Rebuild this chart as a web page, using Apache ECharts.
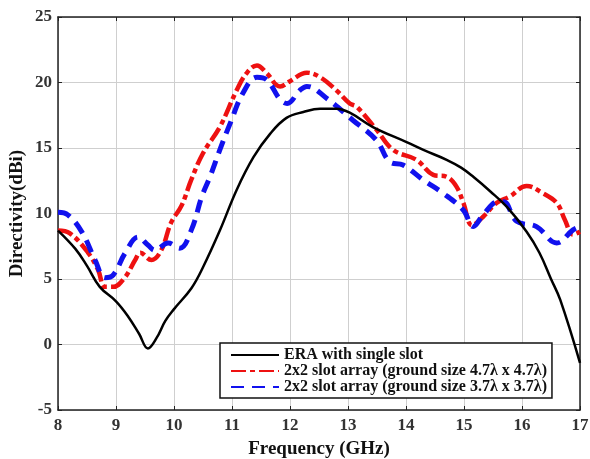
<!DOCTYPE html>
<html>
<head>
    <meta charset="utf-8">
    <title>Directivity vs Frequency</title>
    <script src="https://cdn.jsdelivr.net/npm/echarts@6/dist/echarts.min.js"></script>
    <style>
      body { margin: 0; background: #fff; }
    </style>
</head>
<body>
    <div id="chart" style="width: 590px; height: 459px;"></div>
    <script>
        // frequency (GHz) / directivity (dBi)
        var freqEra = [8.0, 8.3, 8.5, 8.72, 9.0, 9.2, 9.4, 9.55, 9.7, 9.85, 10.0, 10.3, 10.5, 10.79, 11.08, 11.37, 11.66, 11.94, 12.23, 12.52, 12.8, 13.03, 13.43, 14.01, 14.3, 14.7, 14.95, 15.16, 15.45, 15.74, 16.08, 16.3, 16.5, 16.66, 17.0];
        var dirEra = [8.7, 7.3, 6.0, 4.4, 3.3, 2.2, 0.8, -0.3, 0.5, 1.8, 2.7, 4.3, 5.9, 8.7, 11.8, 14.3, 16.1, 17.3, 17.75, 18.0, 18.0, 17.7, 16.6, 15.45, 14.85, 14.1, 13.5, 12.8, 11.7, 10.5, 8.6, 7.0, 5.0, 3.4, -1.4];

        var freq47 = [8.0, 8.2, 8.52, 8.69, 8.81, 8.95, 9.15, 9.33, 9.42, 9.61, 9.78, 9.95, 10.13, 10.3, 10.5, 10.79, 11.08, 11.25, 11.43, 11.6, 11.83, 12.0, 12.29, 12.52, 12.8, 13.03, 13.15, 13.49, 13.78, 14.18, 14.47, 14.7, 14.87, 14.99, 15.14, 15.33, 15.56, 15.79, 16.08, 16.36, 16.6, 16.74, 16.88, 17.0];
        var dir47 = [8.7, 8.5, 7.0, 5.7, 4.4, 4.4, 5.1, 6.45, 7.0, 6.45, 7.2, 9.3, 10.6, 12.6, 14.6, 16.6, 19.4, 20.7, 21.3, 20.7, 19.7, 20.1, 20.75, 20.4, 19.4, 18.4, 18.15, 16.4, 14.85, 14.1, 12.95, 12.8, 12.05, 10.8, 9.1, 9.75, 10.8, 11.3, 12.1, 11.55, 10.8, 9.5, 8.4, 8.6];

        var freq37 = [8.0, 8.17, 8.41, 8.64, 8.81, 8.95, 9.16, 9.38, 9.55, 9.67, 9.9, 10.1, 10.3, 10.48, 10.62, 10.79, 10.97, 11.19, 11.43, 11.6, 11.83, 11.95, 12.17, 12.29, 12.63, 13.09, 13.49, 13.72, 13.95, 14.3, 14.64, 14.99, 15.16, 15.33, 15.59, 15.68, 15.91, 16.25, 16.6, 16.88, 17.0];
        var dir37 = [10.1, 9.9, 8.6, 6.45, 5.1, 5.3, 7.0, 8.2, 7.6, 7.2, 7.75, 7.35, 8.75, 11.3, 12.8, 14.85, 16.9, 19.2, 20.4, 20.2, 18.7, 18.4, 19.4, 19.7, 18.8, 17.1, 15.6, 13.95, 13.7, 12.55, 11.55, 10.25, 9.0, 9.9, 10.9, 10.9, 9.4, 9.0, 7.75, 8.75, 9.0];

        var seriesNames = [
          'ERA with single slot',
          '2x2 slot array (ground size 4.7\u03bb x 4.7\u03bb)',
          '2x2 slot array (ground size 3.7\u03bb x 3.7\u03bb)'
        ];

        function pairs(xs, ys) {
          return xs.map(function (x, i) { return [x, ys[i]]; });
        }

        var font = '"Liberation Serif", "DejaVu Serif", serif';
        var gridColor = '#cfcfcf';
        var frame = { lineStyle: { color: '#222', width: 1.5 } };
        var ticks = { show: true, inside: true, length: 4, lineStyle: { color: '#222' } };

        var chart = echarts.init(document.getElementById('chart'));
        var option = {
          animation: false,
          backgroundColor: '#fff',
          grid: { left: 58, right: 10, top: 17, bottom: 49, outerBoundsMode: 'none', containLabel: false },
          xAxis: [{
            type: 'value', min: 8, max: 17, interval: 1,
            name: 'Frequency (GHz)', nameLocation: 'middle', nameGap: 30,
            nameTextStyle: { fontFamily: font, fontWeight: 'bold', fontSize: 19, color: '#111' },
            axisLine: { onZero: false, lineStyle: frame.lineStyle },
            axisTick: ticks,
            axisLabel: { fontFamily: font, fontWeight: 'bold', fontSize: 17, color: '#333', margin: 7 },
            splitLine: { show: true, lineStyle: { color: gridColor, width: 1 } }
          }, {
            type: 'value', min: 8, max: 17, interval: 1, position: 'top',
            axisLine: { onZero: false, lineStyle: frame.lineStyle },
            axisTick: ticks,
            axisLabel: { show: false },
            splitLine: { show: false }
          }],
          yAxis: [{
            type: 'value', min: -5, max: 25, interval: 5,
            name: 'Directivity(dBi)', nameLocation: 'middle', nameGap: 31, nameMoveOverlap: false,
            nameTextStyle: { fontFamily: font, fontWeight: 'bold', fontSize: 19, color: '#111' },
            axisLine: { show: true, onZero: false, lineStyle: frame.lineStyle },
            axisTick: ticks,
            axisLabel: { fontFamily: font, fontWeight: 'bold', fontSize: 17, color: '#333', margin: 6 },
            splitLine: { show: true, lineStyle: { color: gridColor, width: 1 } }
          }, {
            type: 'value', min: -5, max: 25, interval: 5, position: 'right',
            axisLine: { show: true, onZero: false, lineStyle: frame.lineStyle },
            axisTick: ticks,
            axisLabel: { show: false },
            splitLine: { show: false }
          }],
          legend: {
            left: 220, top: 343,
            orient: 'vertical',
            itemWidth: 48, itemHeight: 16, itemGap: 0,
            padding: [4, 5, 3, 10],
            backgroundColor: '#fff',
            borderColor: '#111', borderWidth: 1.5,
            itemStyle: { color: 'rgba(0,0,0,0)', borderWidth: 0 },
            textStyle: { fontFamily: font, fontWeight: 'bold', fontSize: 16, lineHeight: 16, color: '#111' },
            data: seriesNames
          },
          series: [{
            name: seriesNames[0], type: 'line', data: pairs(freqEra, dirEra),
            smooth: 0.4, symbol: 'none', z: 3,
            lineStyle: { color: '#000', width: 2.5 },
            itemStyle: { color: '#000' }
          }, {
            name: seriesNames[1], type: 'line', data: pairs(freq47, dir47),
            smooth: 0.4, symbol: 'none', z: 2,
            lineStyle: { color: '#ee1111', width: 4.5, type: [15, 4, 5, 4] },
            itemStyle: { color: '#ee1111' }
          }, {
            name: seriesNames[2], type: 'line', data: pairs(freq37, dir37),
            smooth: 0.4, symbol: 'none', z: 2,
            lineStyle: { color: '#1111ee', width: 5, type: [13, 8] },
            itemStyle: { color: '#1111ee' }
          }]
        };
        chart.setOption(option);
    </script>
</body>
</html>
